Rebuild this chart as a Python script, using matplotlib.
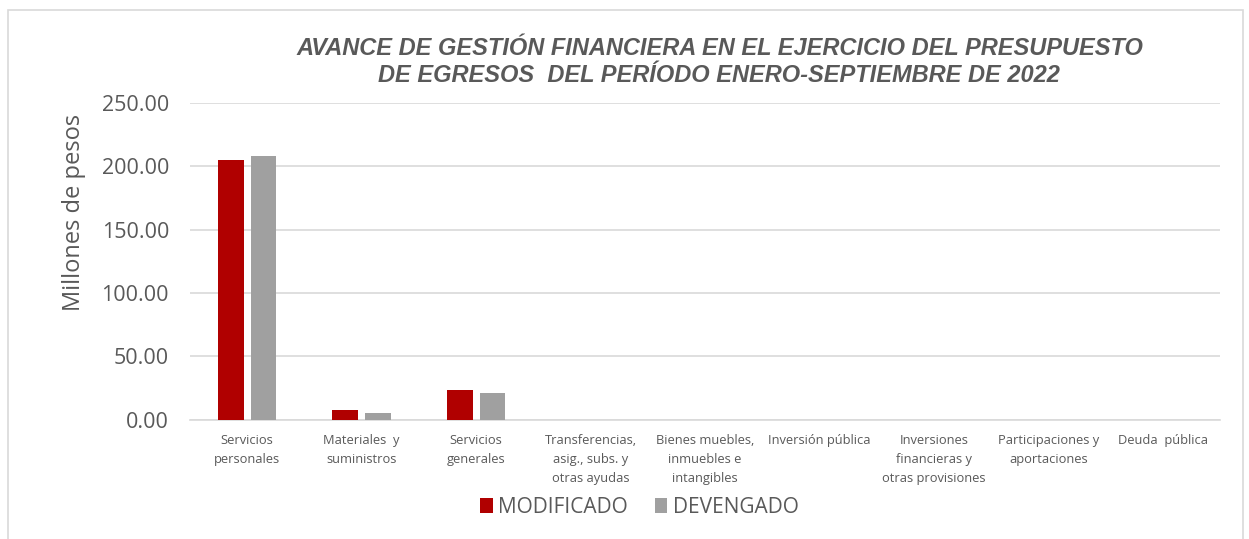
import numpy as np
import matplotlib.pyplot as plt
from matplotlib.patches import Rectangle

categorias = ["Servicios\npersonales", "Materiales  y\nsuministros", "Servicios\ngenerales",
              "Transferencias,\nasig., subs. y\notras ayudas", "Bienes muebles,\ninmuebles e\nintangibles",
              "Inversión pública", "Inversiones\nfinancieras y\notras provisiones",
              "Participaciones y\naportaciones", "Deuda  pública"]
modificado = [205.0, 7.9, 23.7, 0, 0, 0, 0, 0, 0]
devengado = [208.2, 5.8, 21.0, 0, 0, 0, 0, 0, 0]

rojo = "#B00000"
gris = "#A0A0A0"
texto = "#595959"

plt.rcParams['font.family'] = ['Open Sans', 'DejaVu Sans']

fig = plt.figure(figsize=(12.49, 5.39), dpi=100)
fig.patches.append(Rectangle((8/1249, -0.01), (1243-8)/1249, 1 - 10/539 + 0.01, transform=fig.transFigure,
                             fill=False, edgecolor="#d9d9d9", lw=1.2))
ax = fig.add_axes([0.152, 0.221, 0.825, 0.588])

x = np.arange(len(categorias))
w = 0.225
ax.bar(x - w/2 - 0.03, modificado, w, color=rojo, label="MODIFICADO", zorder=3)
ax.bar(x + w/2 + 0.03, devengado, w, color=gris, label="DEVENGADO", zorder=3)

ax.set_xlim(-0.5, len(categorias) - 0.5)
ax.set_ylim(0, 250)
ax.set_yticks(np.arange(0, 251, 50))
ax.set_yticklabels([f"{v:.2f}" for v in np.arange(0, 251, 50)], fontsize=15.5, color=texto)
ax.set_xticks(x)
ax.set_xticklabels(categorias, fontsize=9.3, color=texto, linespacing=1.6)
ax.tick_params(length=0, pad=10)
ax.tick_params(axis='y', pad=15)
ax.grid(axis='y', color="#d9d9d9", lw=1.2, zorder=0)
for s in ["top", "right", "left"]:
    ax.spines[s].set_visible(False)
ax.spines["bottom"].set_color("#d9d9d9")
ax.spines["bottom"].set_linewidth(1.2)
ax.set_ylabel("Millones de pesos", fontsize=17, color=texto)
ax.yaxis.set_label_coords(-0.101, 0.656)

fig.text(0.576, 0.885, "AVANCE DE GESTIÓN FINANCIERA EN EL EJERCICIO DEL PRESUPUESTO\nDE EGRESOS  DEL PERÍODO ENERO-SEPTIEMBRE DE 2022",
         ha="center", va="center", fontsize=17, fontweight="bold", fontstyle="italic",
         color=texto, family=["Liberation Sans", "DejaVu Sans"], linespacing=1.2)

fig.legend(loc="center", bbox_to_anchor=(0.512, 0.059), ncol=2, frameon=False,
           fontsize=15, handlelength=0.6, handleheight=0.7, handletextpad=0.25,
           columnspacing=1.3, labelcolor=texto)

fig.savefig("out.png", dpi=100)
